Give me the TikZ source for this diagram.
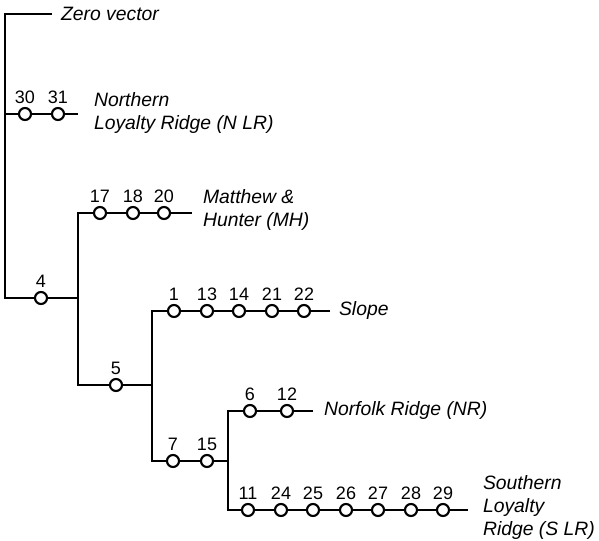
\documentclass[tikz,border=0pt]{standalone}
\usepackage{fontspec}
\setmainfont{Liberation Sans}
\usetikzlibrary{positioning}

\tikzset{
  site/.style = {draw, circle, fill=white, inner sep=0pt, minimum size=9pt},
  num/.style = {font=\fontsize{13.5}{15}\selectfont, inner sep=1pt},
  group/.style = {font=\fontsize{14.5}{17.25}\selectfont\itshape, align=left, anchor=west, inner sep=0pt}
}

\begin{document}
\begin{tikzpicture}[x=0.75pt, y=-0.75pt, line width=1.6pt, label distance=0.5pt]
\useasboundingbox (0,0) rectangle (599,541);
% junctions of the tree
\coordinate (r0) at (5,14);
\coordinate (r1) at (5,114);
\coordinate (r2) at (5,298);
\coordinate (j4) at (78,298);
\coordinate (j4a) at (78,213);
\coordinate (j4b) at (78,385);
\coordinate (j5) at (152,385);
\coordinate (j5a) at (152,311);
\coordinate (j5b) at (152,461);
\coordinate (j7) at (228,461);
\coordinate (j7a) at (228,411);
\coordinate (j7b) at (228,510);
% free ends of the branches
\coordinate (e0) at (52,14);
\coordinate (e1) at (78,114);
\coordinate (emh) at (192,213);
\coordinate (esl) at (330,311);
\coordinate (enr) at (313,411);
\coordinate (eslr) at (468,510);

% sites
\foreach \n/\x in {30/25, 31/58}
  \node[site, label={[num]above:\n}] (n\n) at (\x,114) {};
\node[site, label={[num]above:4}] (n4) at (41,298) {};
\foreach \n/\x in {17/100, 18/133, 20/164}
  \node[site, label={[num]above:\n}] (n\n) at (\x,213) {};
\node[site, label={[num]above:5}] (n5) at (116,385) {};
\foreach \n/\x in {1/174, 13/207, 14/239, 21/272, 22/304}
  \node[site, label={[num]above:\n}] (n\n) at (\x,311) {};
\foreach \n/\x in {7/173, 15/207}
  \node[site, label={[num]above:\n}] (n\n) at (\x,461) {};
\foreach \n/\x in {6/250, 12/287}
  \node[site, label={[num]above:\n}] (n\n) at (\x,411) {};
\foreach \n/\x in {11/248, 24/281, 25/313, 26/346, 27/378, 28/411, 29/443}
  \node[site, label={[num]above:\n}] (n\n) at (\x,510) {};

% branches
\draw (e0) -- (r0) -- (r2) -- (n4) -- (j4);
\draw (r1) -- (n30) -- (n31) -- (e1);
\draw (emh) -- (n20) -- (n18) -- (n17) -- (j4a) -- (j4b) -- (n5) -- (j5);
\draw (esl) -- (n22) -- (n21) -- (n14) -- (n13) -- (n1) -- (j5a) -- (j5b) -- (n7) -- (n15) -- (j7);
\draw (enr) -- (n12) -- (n6) -- (j7a) -- (j7b) -- (n11) -- (n24) -- (n25) -- (n26) -- (n27) -- (n28) -- (n29) -- (eslr);

% names of the groups
\node[group] (zero) at (60,14) {Zero vector};
\node[group] (nlr) at (93,113) {Northern\\Loyalty Ridge (N LR)};
\node[group] (mh) at (202,210) {Matthew \&\\Hunter (MH)};
\node[group] (slope) at (338,311) {Slope};
\node[group] (nr) at (323,411) {Norfolk Ridge (NR)};
\node[group] (slr) at (482,507) {Southern\\Loyalty\\Ridge (S LR)};
\end{tikzpicture}
\end{document}
